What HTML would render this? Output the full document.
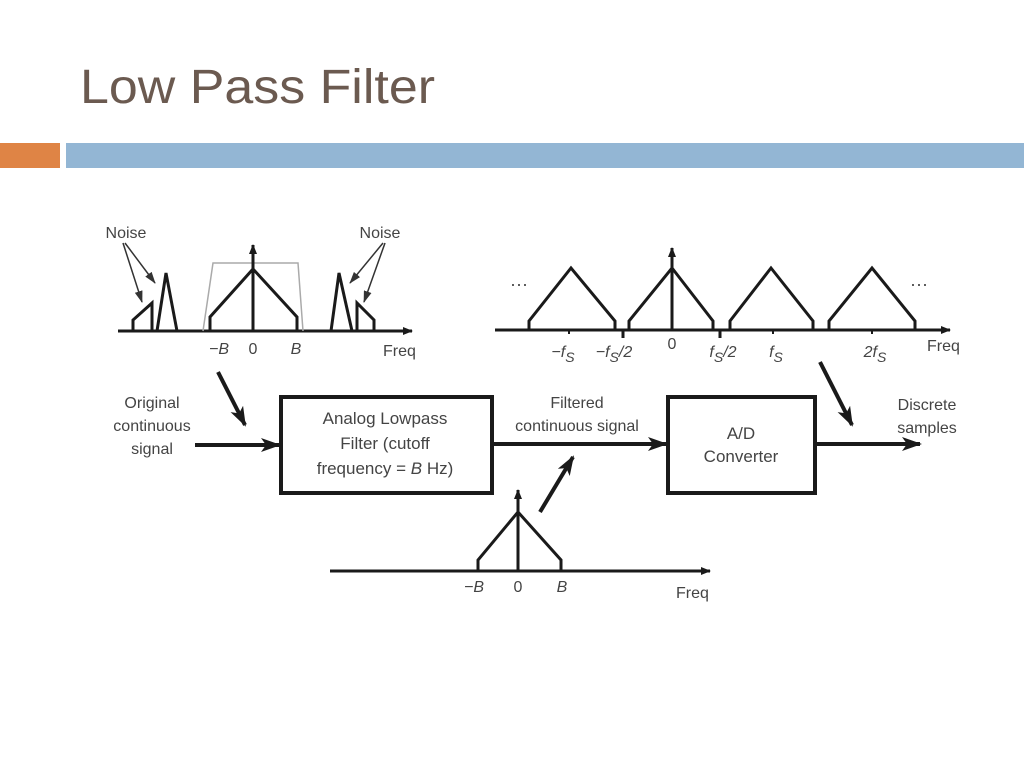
<!DOCTYPE html>
<html><head><meta charset="utf-8"><style>
html,body{margin:0;padding:0;background:#fff;}
svg{display:block}
</style></head><body>
<svg width="1024" height="768" viewBox="0 0 1024 768" xmlns="http://www.w3.org/2000/svg" font-family="Liberation Sans, sans-serif">
<defs>
<marker id="ah" markerWidth="10" markerHeight="8" refX="9" refY="4" orient="auto" markerUnits="userSpaceOnUse"><path d="M0,0 L10,4 L0,8 Z" fill="#1a1a1a"/></marker>
<marker id="ahb" markerWidth="20" markerHeight="14" refX="18" refY="7" orient="auto" markerUnits="userSpaceOnUse"><path d="M0,0 L20,7 L0,14 L5,7 Z" fill="#1a1a1a"/></marker>
<marker id="ahs" markerWidth="12" markerHeight="8" refX="11" refY="4" orient="auto" markerUnits="userSpaceOnUse"><path d="M0,0 L12,4 L0,8 Z" fill="#333"/></marker>
</defs>
<text x="80" y="103" font-size="48" fill="#6b5a50" textLength="355" lengthAdjust="spacingAndGlyphs">Low Pass Filter</text>
<rect x="0" y="143" width="60" height="25" fill="#df8445"/>
<rect x="66" y="143" width="958" height="25" fill="#93b6d4"/>
<g stroke="#1a1a1a" stroke-width="3" fill="none" stroke-linejoin="miter">
<!-- left spectrum -->
<line x1="118" y1="331" x2="412" y2="331" marker-end="url(#ah)"/>
<polyline points="203,331 213,263 298,263 303,331" stroke="#aaa" stroke-width="1.5"/>
<polyline points="210,331 210,317 253,269 297,317 297,331"/>
<line x1="253" y1="331" x2="253" y2="245" marker-end="url(#ah)"/>
<polyline points="133,331 133,320 152,303 152,331"/>
<polyline points="157,331 166,273 177,331"/>
<polyline points="331,331 339,273 352,331"/>
<polyline points="357,331 357,303 374,320 374,331"/>
<!-- noise arrows -->
<g stroke="#333" stroke-width="1.5">
<line x1="123" y1="243" x2="142" y2="302" marker-end="url(#ahs)"/>
<line x1="125" y1="243" x2="155" y2="283" marker-end="url(#ahs)"/>
<line x1="383" y1="243" x2="350" y2="283" marker-end="url(#ahs)"/>
<line x1="385" y1="243" x2="364" y2="302" marker-end="url(#ahs)"/>
</g>
<!-- right spectrum -->
<line x1="495" y1="330" x2="950" y2="330" marker-end="url(#ah)"/>
<polyline points="529,330 529,321 571,268 615,321 615,330"/>
<polyline points="629,330 629,321 672,268 713,321 713,330"/>
<polyline points="730,330 730,321 771,268 813,321 813,330"/>
<polyline points="829,330 829,321 872,268 915,321 915,330"/>
<line x1="672" y1="330" x2="672" y2="248" marker-end="url(#ah)"/>
<line x1="623" y1="330" x2="623" y2="338"/>
<line x1="720" y1="330" x2="720" y2="338"/>
<line x1="569" y1="330" x2="569" y2="334" stroke-width="2"/>
<line x1="773" y1="330" x2="773" y2="334" stroke-width="2"/>
<line x1="872" y1="330" x2="872" y2="334" stroke-width="2"/>
<!-- boxes -->
<rect x="281" y="397" width="211" height="96" stroke-width="4"/>
<rect x="668" y="397" width="147" height="96" stroke-width="4"/>
<line x1="195" y1="445" x2="279" y2="445" stroke-width="4" marker-end="url(#ahb)"/>
<line x1="492" y1="444" x2="666" y2="444" stroke-width="4" marker-end="url(#ahb)"/>
<line x1="815" y1="444" x2="920" y2="444" stroke-width="4" marker-end="url(#ahb)"/>
<line x1="218" y1="372" x2="245" y2="425" stroke-width="4" marker-end="url(#ahb)"/>
<line x1="540" y1="512" x2="573" y2="457" stroke-width="4" marker-end="url(#ahb)"/>
<line x1="820" y1="362" x2="852" y2="425" stroke-width="4" marker-end="url(#ahb)"/>
<!-- bottom spectrum -->
<line x1="330" y1="571" x2="710" y2="571" marker-end="url(#ah)"/>
<polyline points="478,571 478,560 518,512 561,560 561,571"/>
<line x1="518" y1="571" x2="518" y2="490" marker-end="url(#ah)"/>
</g>
<g font-size="16" fill="#444">
<text x="126" y="238" text-anchor="middle">Noise</text>
<text x="380" y="238" text-anchor="middle">Noise</text>
<text x="219" y="354" text-anchor="middle" font-style="italic">−B</text>
<text x="253" y="354" text-anchor="middle">0</text>
<text x="296" y="354" text-anchor="middle" font-style="italic">B</text>
<text x="383" y="356">Freq</text>
<text x="510" y="290" font-size="18">···</text>
<text x="910" y="290" font-size="18">···</text>
<text x="563" y="357" text-anchor="middle" font-style="italic">−f<tspan font-size="14" dy="5">S</tspan></text>
<text x="614" y="357" text-anchor="middle" font-style="italic">−f<tspan font-size="14" dy="5">S</tspan><tspan dy="-5">/2</tspan></text>
<text x="672" y="349" text-anchor="middle">0</text>
<text x="723" y="357" text-anchor="middle" font-style="italic">f<tspan font-size="14" dy="5">S</tspan><tspan dy="-5">/2</tspan></text>
<text x="776" y="357" text-anchor="middle" font-style="italic">f<tspan font-size="14" dy="5">S</tspan></text>
<text x="875" y="357" text-anchor="middle" font-style="italic">2f<tspan font-size="14" dy="5">S</tspan></text>
<text x="927" y="351">Freq</text>
<text x="152" y="408" text-anchor="middle">Original</text>
<text x="152" y="431" text-anchor="middle">continuous</text>
<text x="152" y="454" text-anchor="middle">signal</text>
<text x="385" y="424" text-anchor="middle" font-size="17">Analog Lowpass</text>
<text x="385" y="449" text-anchor="middle" font-size="17">Filter (cutoff</text>
<text x="385" y="474" text-anchor="middle" font-size="17">frequency = <tspan font-style="italic">B</tspan> Hz)</text>
<text x="577" y="408" text-anchor="middle">Filtered</text>
<text x="577" y="431" text-anchor="middle">continuous signal</text>
<text x="741" y="439" text-anchor="middle" font-size="17">A/D</text>
<text x="741" y="462" text-anchor="middle" font-size="17">Converter</text>
<text x="927" y="410" text-anchor="middle">Discrete</text>
<text x="927" y="433" text-anchor="middle">samples</text>
<text x="474" y="592" text-anchor="middle" font-style="italic">−B</text>
<text x="518" y="592" text-anchor="middle">0</text>
<text x="562" y="592" text-anchor="middle" font-style="italic">B</text>
<text x="676" y="598">Freq</text>
</g>
</svg>
</body></html>
